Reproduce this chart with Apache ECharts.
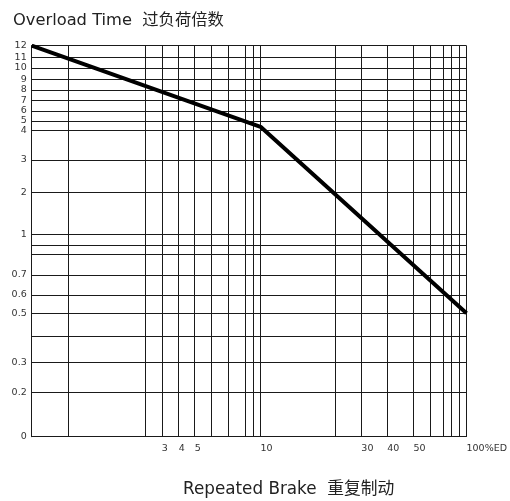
<!DOCTYPE html>
<html>
<head>
<meta charset="utf-8">
<script src="https://cdn.jsdelivr.net/npm/echarts@6/dist/echarts.min.js"></script>
<style>html,body{margin:0;padding:0;background:#fff}#c{width:510px;height:501px}</style>
</head>
<body>
<div id="c"></div>
<script>
// Hand-drawn, non-uniform axis scales: value -> axis unit breakpoints
const xScaleValues = [0, 1, 2, 3, 4, 5, 6, 7, 8, 9, 10, 20, 30, 40, 50, 60, 70, 80, 90, 100];
const xScaleUnits  = [0, 36.6, 114, 130.6, 147.6, 163.6, 180.6, 197.3, 214.3, 222, 229.8, 304.8, 331, 357, 383.3, 400.3, 413.3, 421.3, 428.8, 436.6];
const yScaleValues = [0, 0.2, 0.3, 0.4, 0.5, 0.6, 0.7, 0.8, 0.9, 1, 2, 3, 4, 5, 6, 7, 8, 9, 10, 11, 12];
const yScaleUnits  = [0, 44.4, 74, 100.7, 123.4, 141.7, 161.7, 182.4, 191.4, 202.4, 244, 276.7, 306, 315.7, 325.7, 336, 346.7, 357.4, 368.7, 379.4, 391];

// Tick labels
const xTickLabels = [3, 4, 5, 10, 30, 40, 50, 100];
const yTickLabels = [0, 0.2, 0.3, 0.5, 0.6, 0.7, 1, 2, 3, 4, 5, 6, 7, 8, 9, 10, 11, 12];

// Curve: repeated brake (%ED) vs overload multiple
const brakeED = [0, 10, 100];
const overload = [12, 4.4, 0.5];

function interp(vals, units, v) {
  for (let i = 0; i < vals.length - 1; i++) {
    if (v >= vals[i] && v <= vals[i + 1]) {
      const t = (v - vals[i]) / (vals[i + 1] - vals[i]);
      return units[i] + t * (units[i + 1] - units[i]);
    }
  }
  return v < vals[0] ? units[0] : units[units.length - 1];
}
const toX = v => interp(xScaleValues, xScaleUnits, v);
const toY = v => interp(yScaleValues, yScaleUnits, v);
function labelFor(vals, conv, u, fmt) {
  for (const v of vals) if (Math.abs(conv(v) - u) < 1e-6) return fmt(v);
  return '';
}

const gridColor = '#1a1a1a';
const markData = [];
xScaleValues.forEach(v => markData.push({ xAxis: toX(v) }));
yScaleValues.forEach(v => markData.push({ yAxis: toY(v) }));

const chart = echarts.init(document.getElementById('c'));
chart.setOption({
  animation: false,
  title: [
    { text: 'Overload Time  过负荷倍数', left: 13, top: 13, padding: 0,
      textStyle: { fontFamily: 'DejaVu Sans, Noto Sans CJK SC', fontSize: 16.3, fontWeight: 'normal', color: '#222' } },
    { text: 'Repeated Brake  重复制动', left: 183, top: 481, padding: 0,
      textStyle: { fontFamily: 'DejaVu Sans, Noto Sans CJK SC', fontSize: 16.8, fontWeight: 'normal', color: '#222' } }
  ],
  grid: { left: 31.7, right: 41.7, top: 45.7, bottom: 64.3, containLabel: false },
  xAxis: {
    type: 'value', min: 0, max: xScaleUnits[xScaleUnits.length - 1],
    axisLine: { show: true, lineStyle: { color: '#444', width: 1 } },
    axisTick: { show: false },
    splitLine: { show: false },
    axisLabel: {
      customValues: xTickLabels.map(toX),
      formatter: u => labelFor(xTickLabels, toX, u, v => v === 100 ? '100%ED' : String(v)),
      align: 'left', margin: 7,
      fontFamily: 'DejaVu Sans', fontSize: 9.5, color: '#333'
    }
  },
  yAxis: {
    type: 'value', min: 0, max: yScaleUnits[yScaleUnits.length - 1],
    axisLine: { show: true, lineStyle: { color: '#000', width: 1 } },
    axisTick: { show: false },
    splitLine: { show: false },
    axisLabel: {
      customValues: yTickLabels.map(toY),
      formatter: u => labelFor(yTickLabels, toY, u, v => String(v)),
      margin: 5,
      fontFamily: 'DejaVu Sans', fontSize: 9.5, color: '#333'
    }
  },
  series: [{
    type: 'line',
    data: brakeED.map((x, i) => [toX(x), toY(overload[i])]),
    showSymbol: false,
    symbol: 'none',
    lineStyle: { color: '#000', width: 4 },
    z: 3,
    markLine: {
      silent: true, symbol: 'none', z: 1,
      label: { show: false },
      lineStyle: { color: gridColor, width: 1, type: 'solid' },
      emphasis: { disabled: true },
      data: markData
    }
  }]
});
</script>
</body>
</html>
